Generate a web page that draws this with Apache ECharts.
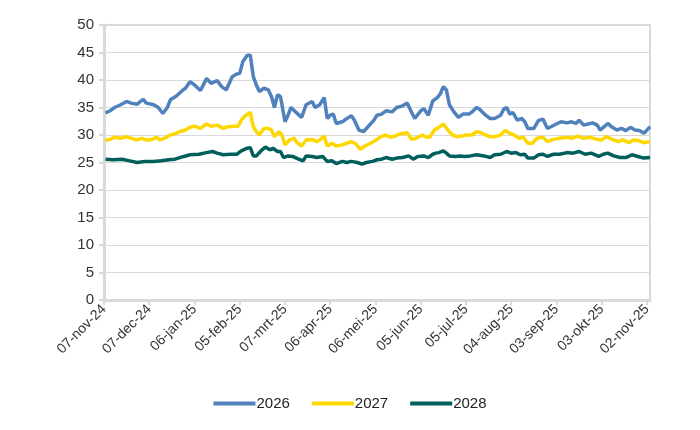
<!DOCTYPE html>
<html>
<head>
<meta charset="utf-8">
<script src="https://cdn.jsdelivr.net/npm/echarts@6/dist/echarts.min.js"></script>
<style>
html,body{margin:0;padding:0;background:#fff;}
#chart{width:700px;height:430px;}
</style>
</head>
<body>
<div id="chart"></div>
<script>
// x positions are day offsets from 07-nov-24
var tickLabels = ['07-nov-24','07-dec-24','06-jan-25','05-feb-25','07-mrt-25','06-apr-25','06-mei-25','05-jun-25','05-jul-25','04-aug-25','03-sep-25','03-okt-25','02-nov-25'];
var seriesNames = ['2026','2027','2028'];

var days2026 = [1,4,7,11,15,18,22,26,28,33,36,39,42,44,48,52,54,57,60,64,68,71,75,78,81,85,88,90,92,95,97,99,101,103,106,109,111,113,115,117,120,122,124,127,131,134,138,140,143,146,148,150,152,154,158,161,164,166,169,172,175,179,181,184,187,191,194,198,201,204,206,210,212,215,218,221,223,225,227,229,232,235,238,242,244,247,249,253,256,259,263,265,267,269,271,274,277,279,281,285,288,291,294,297,300,303,307,310,313,315,318,321,324,327,329,332,334,337,340,343,346,349,352,355,358,361,362];
var vals2026 = [34.0,34.4,35.0,35.5,36.1,35.8,35.6,36.5,35.8,35.5,35.0,33.9,35.0,36.4,37.1,38.1,38.5,39.7,39.1,38.1,40.3,39.4,39.9,38.8,38.2,40.6,41.1,41.2,43.3,44.5,44.5,40.6,39.1,37.9,38.5,38.2,37.0,35.0,37.3,37.0,32.4,33.6,35.0,34.2,33.2,35.5,36.1,35.0,35.5,36.8,33.0,33.6,33.8,32.1,32.4,33.0,33.5,32.7,30.9,30.6,31.5,32.7,33.6,33.8,34.4,34.2,35.0,35.3,35.8,34.1,33.0,34.4,34.8,33.6,36.2,36.8,37.5,38.8,38.2,35.5,34.2,33.2,33.8,33.8,34.2,35.0,34.7,33.6,33.0,33.0,33.6,34.7,35.0,33.8,34.1,32.7,33.0,32.4,31.2,31.2,32.6,32.9,31.2,31.6,32.0,32.4,32.2,32.4,32.1,32.7,31.8,32.0,32.2,31.8,30.9,31.6,32.1,31.4,30.9,31.2,30.8,31.4,30.9,30.8,30.3,31.2,31.5];

var days2027 = [1,4,7,11,15,18,22,25,28,32,35,37,40,44,47,50,54,57,60,64,68,71,75,79,82,86,89,91,94,97,99,101,103,106,109,111,113,116,118,120,123,126,128,131,134,138,141,143,146,148,151,154,158,161,164,167,170,173,176,180,183,186,190,193,196,201,204,207,211,213,216,219,222,225,226,228,231,234,237,240,244,247,250,253,256,259,263,266,269,272,275,278,281,284,287,291,294,298,302,307,310,314,318,322,327,330,333,337,341,344,348,351,354,358,362];
var vals2027 = [29.0,29.2,29.6,29.4,29.7,29.4,29.1,29.4,29.1,29.2,29.6,29.1,29.4,30.0,30.2,30.6,30.9,31.4,31.6,31.2,32.0,31.6,31.8,31.2,31.5,31.6,31.6,32.7,33.6,34.1,31.5,30.6,30.0,31.2,31.2,30.9,29.7,30.6,30.0,28.2,29.1,29.4,28.6,28.0,29.1,29.2,28.8,29.1,29.8,28.0,28.5,28.0,28.2,28.5,28.8,28.4,27.4,28.0,28.4,29.0,29.6,30.0,29.6,29.8,30.2,30.4,29.2,29.4,30.0,29.7,29.6,30.9,31.4,32.0,31.6,30.9,30.0,29.7,29.8,30.0,30.0,30.6,30.4,30.0,29.7,29.7,30.0,30.8,30.3,30.0,29.4,29.6,28.5,28.5,29.4,29.6,28.8,29.2,29.4,29.6,29.4,29.8,29.4,29.6,29.2,29.1,29.7,29.2,28.8,29.1,28.6,29.1,29.0,28.6,28.8];

var days2028 = [1,6,12,17,22,27,33,38,43,47,53,57,63,68,72,75,79,84,88,91,95,97,99,101,104,107,110,112,115,117,119,122,125,129,132,134,138,141,145,148,151,154,158,161,164,168,171,174,178,181,184,187,191,194,198,202,205,208,212,215,218,220,222,225,227,229,233,236,239,243,247,252,256,259,263,267,270,273,276,279,281,285,288,291,294,298,302,307,311,315,319,323,328,331,334,338,342,346,350,354,358,362];
var vals2028 = [25.6,25.5,25.6,25.3,25.0,25.2,25.2,25.3,25.5,25.6,26.1,26.4,26.5,26.8,27.0,26.7,26.4,26.5,26.5,27.1,27.6,27.7,26.2,26.2,27.1,27.8,27.3,27.6,27.0,27.0,25.9,26.2,26.1,25.6,25.3,26.2,26.1,25.9,26.1,25.2,25.3,24.8,25.2,25.0,25.2,25.0,24.7,25.0,25.2,25.5,25.6,25.9,25.6,25.8,25.9,26.2,25.6,26.1,26.2,25.9,26.5,26.7,26.8,27.1,26.7,26.2,26.1,26.2,26.1,26.2,26.4,26.2,25.9,26.4,26.5,27.0,26.7,26.8,26.4,26.5,25.8,25.8,26.4,26.5,26.1,26.5,26.5,26.8,26.7,27.0,26.5,26.7,26.1,26.5,26.7,26.2,25.9,25.9,26.4,26.1,25.8,25.9];

var colors = ['#4F81BD','#FFD700','#005F5B'];

function pairs(d, v){ return d.map(function(x,i){ return [x, v[i]]; }); }
var allDays = [days2026, days2027, days2028];
var allVals = [vals2026, vals2027, vals2028];

var chart = echarts.init(document.getElementById('chart'));
var fontFam = '"Liberation Sans", Arial, sans-serif';
chart.setOption({
  animation: false,
  backgroundColor: '#ffffff',
  textStyle: { fontFamily: fontFam },
  grid: { left: 104, right: 50, top: 25, bottom: 130, show: true, borderColor: '#D9D9D9', borderWidth: 2 },
  legend: {
    bottom: 14, left: 'center',
    itemWidth: 42, itemHeight: 4, itemGap: 22,
    icon: 'rect',
    textStyle: { fontSize: 15, color: '#222', fontFamily: fontFam, padding: [0,0,0,-4] },
    data: seriesNames
  },
  xAxis: {
    type: 'value', min: 0, max: 362, interval: 30,
    axisLine: { show: true, lineStyle: { color: '#D9D9D9', width: 3 } },
    axisTick: { show: true, length: 5, lineStyle: { color: '#D9D9D9', width: 2 } },
    splitLine: { show: false },
    axisLabel: {
      rotate: 45, fontSize: 14, color: '#333', margin: 7, fontFamily: fontFam,
      showMaxLabel: false,
      formatter: function(v){ return (v % 30 === 0 && tickLabels[v/30]) ? tickLabels[v/30] : ''; }
    }
  },
  yAxis: {
    type: 'value', min: 0, max: 50, interval: 5,
    axisLine: { show: true, lineStyle: { color: '#D9D9D9', width: 3 } },
    axisTick: { show: true, length: 5, lineStyle: { color: '#D9D9D9', width: 2 } },
    splitLine: { show: true, lineStyle: { color: '#D9D9D9', width: 1 } },
    axisLabel: { fontSize: 15, color: '#333', margin: 10, fontFamily: fontFam }
  },
  series: seriesNames.map(function(n, i){
    return {
      name: n, type: 'line', showSymbol: false, symbol: 'none',
      data: pairs(allDays[i], allVals[i]),
      lineStyle: { color: colors[i], width: 3.5 },
      itemStyle: { color: colors[i] }
    };
  })
});
</script>
</body>
</html>
